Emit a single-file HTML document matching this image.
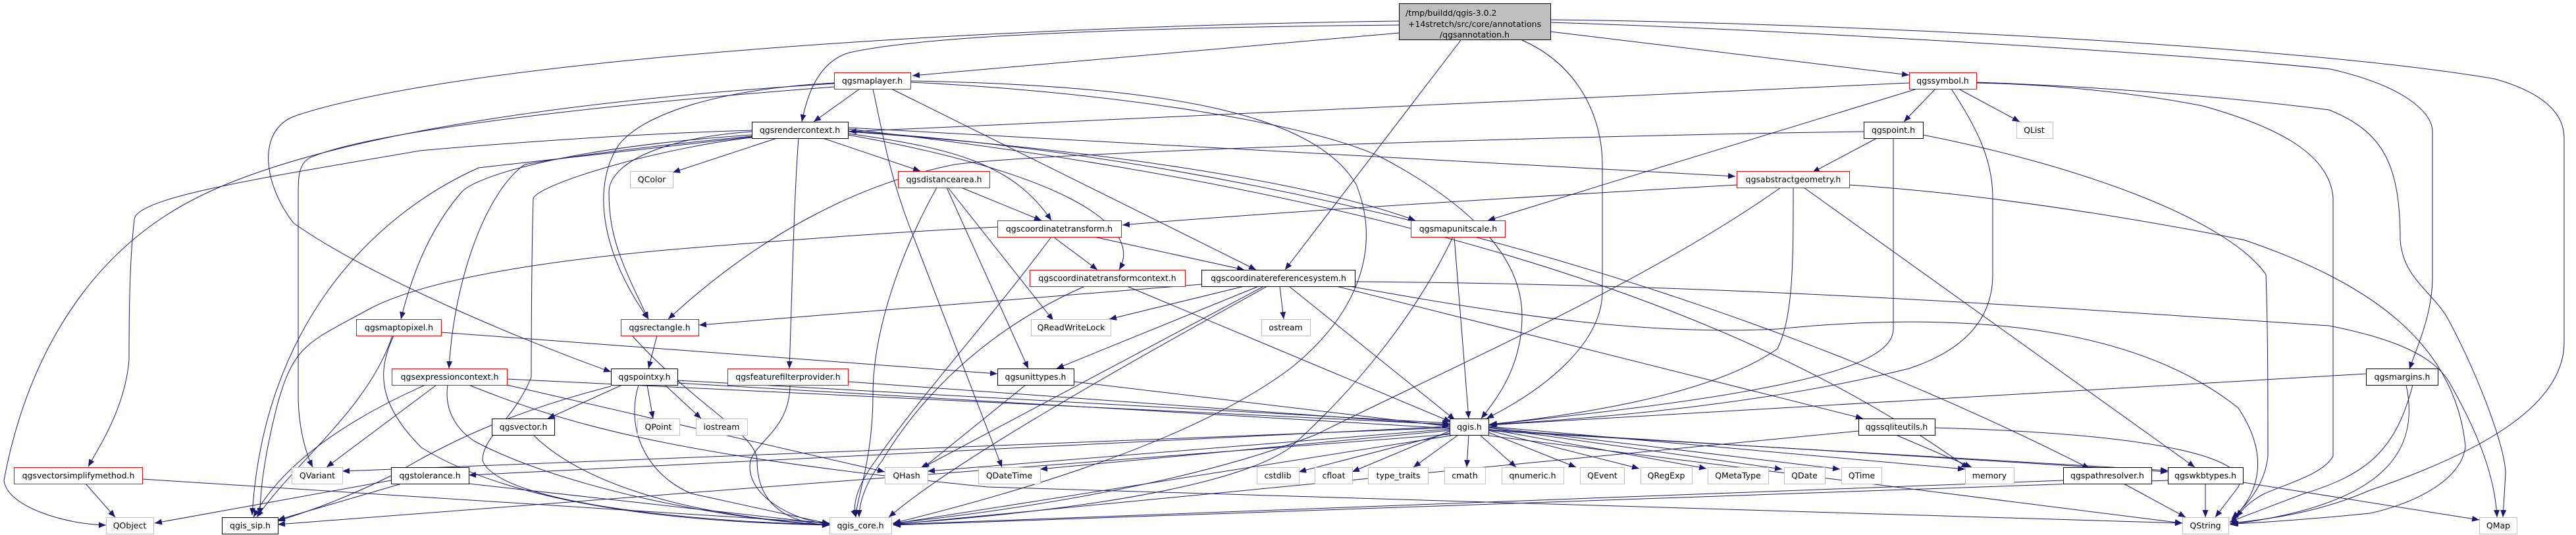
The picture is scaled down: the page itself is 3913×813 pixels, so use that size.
<!DOCTYPE html>
<html><head><meta charset="utf-8"><style>
html,body{margin:0;padding:0;background:#fff;}
svg{display:block;}
text{font-family:"DejaVu Sans","Liberation Sans",sans-serif;font-size:12.5px;fill:#000;}
</style></head><body>
<svg width="3913" height="813" viewBox="0 0 3913 813" xmlns="http://www.w3.org/2000/svg">
<defs><marker id="a" markerWidth="12" markerHeight="10" refX="11" refY="4.5" orient="auto" markerUnits="userSpaceOnUse"><path d="M0,0 L11,4.5 L0,9 z" fill="#191970"/></marker></defs>
<g fill="none" stroke="#191970" stroke-width="1" marker-end="url(#a)">
<!-- title -->
<path d="M2126,38 C1700,42 1400,55 1290,80 C1240,95 1225,150 1218,185"/>
<path d="M2126,50 L1386,115"/>
<path d="M2126,32 C1500,40 700,90 446,177 C390,200 400,280 446,339 C560,420 800,520 928,565"/>
<path d="M2219,61 L1952,410"/>
<path d="M2312,61 C2400,100 2434,180 2434,250 L2434,443 C2434,520 2350,590 2258,636"/>
<path d="M2355,48 L2900,114"/>
<path d="M2355,34 C2700,45 3300,80 3540,105 C3650,130 3695,170 3695,200 L3695,420 C3695,480 3670,530 3660,561"/>
<path d="M2355,30 C2800,35 3500,70 3790,120 C3860,140 3895,170 3895,210 L3895,520 C3895,620 3760,690 3600,745 C3520,780 3440,790 3387,795"/>
<!-- maplayer -->
<path d="M1306,135 L1236,185"/>
<path d="M1267,127 C900,150 500,200 300,300 C100,400 30,600 6,730 C10,770 100,797 161,798"/>
<path d="M1267,132 C900,160 560,200 470,240 C453,250 453,270 453,300 L453,600 C453,650 465,690 475,710"/>
<path d="M1267,126 C1100,135 980,170 940,220 C900,280 910,380 985,485"/>
<path d="M1383,125 C1700,140 2000,190 2100,240 C2250,320 2312,400 2312,480 C2312,560 2270,610 2250,636"/>
<path d="M1354,135 L1908,410"/>
<path d="M1326,135 C1340,200 1350,260 1380,340 L1522,710"/>
<path d="M1383,123 C1800,130 2000,180 2060,280 C2100,380 2060,480 1960,560 C1800,680 1500,760 1357,795"/>
<!-- symbol -->
<path d="M2900,126 L1290,200"/>
<path d="M2940,135 L2892,185"/>
<path d="M2975,135 L3068,185"/>
<path d="M2912,135 C2800,170 2500,260 2260,335"/>
<path d="M2964,135 C3000,190 3027,240 3027,300 L3027,417 C3027,480 2990,530 2900,560 C2700,610 2450,635 2262,645"/>
<path d="M3002,126 C3200,130 3346,161 3346,161 C3450,190 3538,230 3544,300 L3544,693 C3530,720 3474,735 3440,750 C3420,760 3405,775 3397,786"/>
<path d="M3002,125 C3300,135 3538,167 3538,167 C3620,200 3646,250 3646,365 C3650,420 3690,440 3716,480 C3760,560 3806,678 3806,720 L3802,786"/>
<!-- qgspoint -->
<path d="M2831,200 C2400,206 1600,230 1450,250 C1300,280 1150,360 1015,485"/>
<path d="M2851,210 L2753,262"/>
<path d="M2876,210 L2876,500 C2876,560 2700,600 2263,645"/>
<path d="M2921,205 C3150,250 3380,330 3442,417 C3445,500 3445,600 3445,693 C3440,740 3410,770 3390,788"/>
<!-- abstractgeometry -->
<path d="M2638,281 C2300,300 1900,325 1705,342"/>
<path d="M2705,285 C2500,430 2200,560 2000,660 C1800,740 1500,780 1357,795"/>
<path d="M2724,285 C2724,400 2724,480 2700,530 C2600,600 2400,630 2263,645"/>
<path d="M2740,285 L3334,710"/>
<path d="M2809,281 C3100,300 3410,365 3410,365 C3600,430 3729,521 3745,678 C3740,730 3665,766 3600,780 C3500,790 3420,795 3389,796"/>
<!-- mapunitscale -->
<path d="M2209,360 L2231,636"/>
<path d="M2207,360 C2150,480 2060,590 1960,680 C1850,760 1450,790 1357,796"/>
<!-- rendercontext -->
<path d="M1180,210 L1022,262"/>
<path d="M1250,210 L1398,260"/>
<path d="M1288,203 C1450,225 1540,250 1597,335"/>
<path d="M1288,205 C1600,260 1740,340 1700,410"/>
<path d="M1213,210 C1206,300 1203,450 1199,560"/>
<path d="M1142,200 C1000,210 925,250 925,292 C925,360 944,400 985,485"/>
<path d="M1142,205 C850,225 720,270 701,292 C660,340 630,400 609,485"/>
<path d="M1142,207 C900,230 797,250 797,250 C740,290 690,420 682,560"/>
<path d="M1142,208 C950,230 727,255 727,255 C560,330 400,500 383,783"/>
<path d="M1142,198 C900,205 638,229 638,229 C400,270 204,300 204,334 C196,400 196,500 196,547 C190,620 150,680 134,709"/>
<path d="M1142,209 C1000,225 816,280 810,302 C807,400 807,573 807,573 C780,640 733,662 733,700 C760,770 1100,795 1260,797"/>
<path d="M1288,200 C1700,230 2000,280 2150,335"/>
<path d="M1288,194 L2636,268"/>
<path d="M1288,199 C1900,240 2600,420 3174,712"/>
<path d="M1288,196 C2200,300 2700,500 2990,712"/>
<!-- coordinatetransform -->
<path d="M1600,360 L1667,410"/>
<path d="M1662,360 L1890,410"/>
<path d="M1515,345 C1300,355 1000,381 1000,381 C800,400 638,428 560,470 C470,520 446,521 420,620 C400,700 395,750 395,783"/>
<path d="M1597,360 C1500,490 1400,600 1330,700 C1300,740 1295,770 1300,786"/>
<!-- distancearea -->
<path d="M1460,285 L1582,335"/>
<path d="M1423,285 C1370,380 1326,500 1326,600 C1326,700 1300,760 1300,786"/>
<path d="M1440,285 L1600,487"/>
<path d="M1438,285 L1562,560"/>
<!-- ctcontext -->
<path d="M1648,435 C1500,500 1400,600 1340,700 C1310,740 1305,770 1305,786"/>
<path d="M1712,435 L2204,641"/>
<!-- crs -->
<path d="M1825,432 L1062,494"/>
<path d="M1890,435 L1685,485"/>
<path d="M1944,435 L1950,485"/>
<path d="M1912,435 L1605,560"/>
<path d="M1920,435 L1397,713"/>
<path d="M1925,435 C1700,560 1450,700 1350,786"/>
<path d="M1958,435 L2210,638"/>
<path d="M2058,428 C2600,432 3000,459 3538,495 C3640,515 3697,542 3720,580 C3760,650 3790,720 3793,786"/>
<path d="M2050,435 C2300,480 2500,510 2700,500 C3000,470 3250,500 3400,620 C3440,680 3442,740 3390,790"/>
<path d="M2030,435 L2830,636"/>
<!-- maptopixel -->
<path d="M670,505 L1515,568"/>
<path d="M596,510 C560,620 450,700 390,786"/>
<path d="M598,510 C575,560 570,610 640,680 C800,780 1100,795 1260,798"/>
<!-- rectangle -->
<path d="M998,510 L985,560"/>
<path d="M960,510 C1060,620 1150,660 1150,700 C1150,770 1200,795 1260,798"/>
<!-- expressioncontext -->
<path d="M770,576 L2202,645"/>
<path d="M770,585 L1344,717"/>
<path d="M663,585 L496,710"/>
<path d="M646,585 C500,650 420,720 385,786"/>
<path d="M680,585 C675,620 690,650 720,670 C850,740 1100,790 1260,798"/>
<path d="M712,585 C850,640 1000,690 1500,740 L3315,795"/>
<!-- pointxy -->
<path d="M945,585 L832,636"/>
<path d="M983,585 L992,636"/>
<path d="M1010,585 L1065,636"/>
<path d="M1029,578 L2202,643"/>
<path d="M1029,582 L3293,715"/>
<path d="M928,587 C800,620 700,660 600,720 C500,770 440,785 422,792"/>
<path d="M970,585 C950,650 980,720 1050,750 L1260,796"/>
<!-- vector, ffp, unittypes -->
<path d="M810,661 C870,720 1000,780 1260,798"/>
<path d="M1200,585 C1200,650 1150,670 1140,700 C1130,750 1200,790 1260,797"/>
<path d="M1288,580 L2202,646"/>
<path d="M1558,585 L1401,712"/>
<path d="M1631,580 L2202,648"/>
<!-- qgis.h -->
<path d="M2202,655 L2054,717"/>
<path d="M2215,661 L2147,710"/>
<path d="M2231,661 L2228,710"/>
<path d="M2248,661 L2303,710"/>
<path d="M2261,657 L2394,710"/>
<path d="M2261,654 L2490,712"/>
<path d="M2261,652 L2592,712"/>
<path d="M2261,650 L2707,713"/>
<path d="M2261,649 L2795,713"/>
<path d="M2261,648 L2985,713"/>
<path d="M2202,658 L1973,717"/>
<path d="M2202,654 L1580,713"/>
<path d="M2202,652 L1409,716"/>
<path d="M2202,650 L520,716"/>
<path d="M2202,648 L712,722"/>
<path d="M2210,661 L1356,796"/>
<path d="M2202,660 L422,797"/>
<path d="M2261,662 L3315,795"/>
<path d="M2261,653 L3293,717"/>
<!-- sqliteutils -->
<path d="M2880,661 L2995,710"/>
<path d="M2939,650 C3300,660 3420,700 3400,740 L3365,786"/>
<path d="M2823,655 L1357,797"/>
<!-- tolerance / simplify -->
<path d="M594,730 L235,795"/>
<path d="M610,735 L422,790"/>
<path d="M712,735 L1260,796"/>
<path d="M130,735 L175,786"/>
<path d="M216,728 L1260,795"/>
<!-- margins -->
<path d="M3594,568 L2261,646"/>
<path d="M3665,585 C3640,680 3600,720 3500,750 L3387,793"/>
<path d="M3655,585 C3680,700 3600,770 3387,797"/>
<!-- pathresolver / wkb -->
<path d="M3226,735 L3320,786"/>
<path d="M3134,730 L1357,797"/>
<path d="M3350,735 L3350,786"/>
<path d="M3407,733 L3766,790"/>
<path d="M3293,730 L1357,798"/>
</g>
<g stroke-width="1">
<rect x="2125.5" y="5.5" width="230" height="55" fill="#bfbfbf" stroke="#000"/>
<text x="2135" y="24">/tmp/buildd/qgis-3.0.2</text>
<text x="2240" y="41" text-anchor="middle">+14stretch/src/core/annotations</text>
<text x="2240" y="58" text-anchor="middle" dy="-1">/qgsannotation.h</text>
</g>
<g fill="#fff" stroke-width="1">
<!-- red nodes -->
<g stroke="#ff0000">
<rect x="1267.5" y="110.5" width="116" height="25"/>
<rect x="2900.5" y="110.5" width="102" height="25"/>
<rect x="1364.5" y="260.5" width="139" height="25"/>
<rect x="2638.5" y="260.5" width="171" height="25"/>
<rect x="1515.5" y="335.5" width="188" height="25"/>
<rect x="2143.5" y="335.5" width="143" height="25"/>
<rect x="1564.5" y="410.5" width="236" height="25"/>
<rect x="541.5" y="485.5" width="129" height="25"/>
<rect x="943.5" y="485.5" width="118" height="25"/>
<rect x="595.5" y="560.5" width="175" height="25"/>
<rect x="1105.5" y="560.5" width="183" height="25"/>
<rect x="21.5" y="710.5" width="195" height="25"/>
</g>
<g stroke="#000">
<rect x="1142.5" y="185.5" width="146" height="25"/>
<rect x="2831.5" y="185.5" width="90" height="25"/>
<rect x="1825.5" y="410.5" width="233" height="25"/>
<rect x="928.5" y="560.5" width="101" height="25"/>
<rect x="1515.5" y="560.5" width="116" height="25"/>
<rect x="3594.5" y="560.5" width="109" height="25"/>
<rect x="747.5" y="636.5" width="95" height="25"/>
<rect x="2202.5" y="636.5" width="59" height="25"/>
<rect x="2823.5" y="636.5" width="116" height="25"/>
<rect x="594.5" y="710.5" width="118" height="25"/>
<rect x="3134.5" y="710.5" width="134" height="25"/>
<rect x="3293.5" y="710.5" width="114" height="25"/>
<rect x="337.5" y="786.5" width="85" height="25"/>
</g>
<g stroke="#bfbfbf">
<rect x="3063.5" y="185.5" width="55" height="25"/>
<rect x="957.5" y="260.5" width="65" height="25"/>
<rect x="1566.5" y="485.5" width="121" height="25"/>
<rect x="1916.5" y="485.5" width="74" height="25"/>
<rect x="968.5" y="636.5" width="64" height="25"/>
<rect x="1057.5" y="636.5" width="78" height="25"/>
<rect x="443.5" y="710.5" width="77" height="25"/>
<rect x="1344.5" y="710.5" width="65" height="25"/>
<rect x="1486.5" y="710.5" width="94" height="25"/>
<rect x="1909.5" y="710.5" width="64" height="25"/>
<rect x="1997.5" y="710.5" width="57" height="25"/>
<rect x="2078.5" y="710.5" width="91" height="25"/>
<rect x="2194.5" y="710.5" width="62" height="25"/>
<rect x="2281.5" y="710.5" width="94" height="25"/>
<rect x="2400.5" y="710.5" width="67" height="25"/>
<rect x="2492.5" y="710.5" width="78" height="25"/>
<rect x="2594.5" y="710.5" width="92" height="25"/>
<rect x="2710.5" y="710.5" width="62" height="25"/>
<rect x="2797.5" y="710.5" width="61" height="25"/>
<rect x="2985.5" y="710.5" width="74" height="25"/>
<rect x="161.5" y="786.5" width="72" height="25"/>
<rect x="1260.5" y="786.5" width="94" height="25"/>
<rect x="3315.5" y="786.5" width="70" height="25"/>
<rect x="3766.5" y="786.5" width="57" height="25"/>
</g>
</g>
<g text-anchor="middle">
<text x="1325" y="127">qgsmaplayer.h</text>
<text x="2951" y="127">qgssymbol.h</text>
<text x="1215" y="202">qgsrendercontext.h</text>
<text x="2876" y="202">qgspoint.h</text>
<text x="3090" y="202">QList</text>
<text x="990" y="277">QColor</text>
<text x="1434" y="277">qgsdistancearea.h</text>
<text x="2724" y="277">qgsabstractgeometry.h</text>
<text x="1609" y="352">qgscoordinatetransform.h</text>
<text x="2215" y="352">qgsmapunitscale.h</text>
<text x="1682" y="427">qgscoordinatetransformcontext.h</text>
<text x="1942" y="427">qgscoordinatereferencesystem.h</text>
<text x="606" y="502">qgsmaptopixel.h</text>
<text x="1002" y="502">qgsrectangle.h</text>
<text x="1627" y="502">QReadWriteLock</text>
<text x="1953" y="502">ostream</text>
<text x="683" y="577">qgsexpressioncontext.h</text>
<text x="979" y="577">qgspointxy.h</text>
<text x="1197" y="577">qgsfeaturefilterprovider.h</text>
<text x="1573" y="577">qgsunittypes.h</text>
<text x="3649" y="577">qgsmargins.h</text>
<text x="795" y="653">qgsvector.h</text>
<text x="1000" y="653">QPoint</text>
<text x="1096" y="653">iostream</text>
<text x="2232" y="653">qgis.h</text>
<text x="2881" y="653">qgssqliteutils.h</text>
<text x="119" y="727">qgsvectorsimplifymethod.h</text>
<text x="482" y="727">QVariant</text>
<text x="653" y="727">qgstolerance.h</text>
<text x="1377" y="727">QHash</text>
<text x="1533" y="727">QDateTime</text>
<text x="1941" y="727">cstdlib</text>
<text x="2026" y="727">cfloat</text>
<text x="2124" y="727">type_traits</text>
<text x="2225" y="727">cmath</text>
<text x="2328" y="727">qnumeric.h</text>
<text x="2434" y="727">QEvent</text>
<text x="2531" y="727">QRegExp</text>
<text x="2640" y="727">QMetaType</text>
<text x="2741" y="727">QDate</text>
<text x="2828" y="727">QTime</text>
<text x="3022" y="727">memory</text>
<text x="3201" y="727">qgspathresolver.h</text>
<text x="3350" y="727">qgswkbtypes.h</text>
<text x="197" y="803">QObject</text>
<text x="380" y="803">qgis_sip.h</text>
<text x="1307" y="803">qgis_core.h</text>
<text x="3350" y="803">QString</text>
<text x="3795" y="803">QMap</text>
</g>
</svg>
</body></html>
